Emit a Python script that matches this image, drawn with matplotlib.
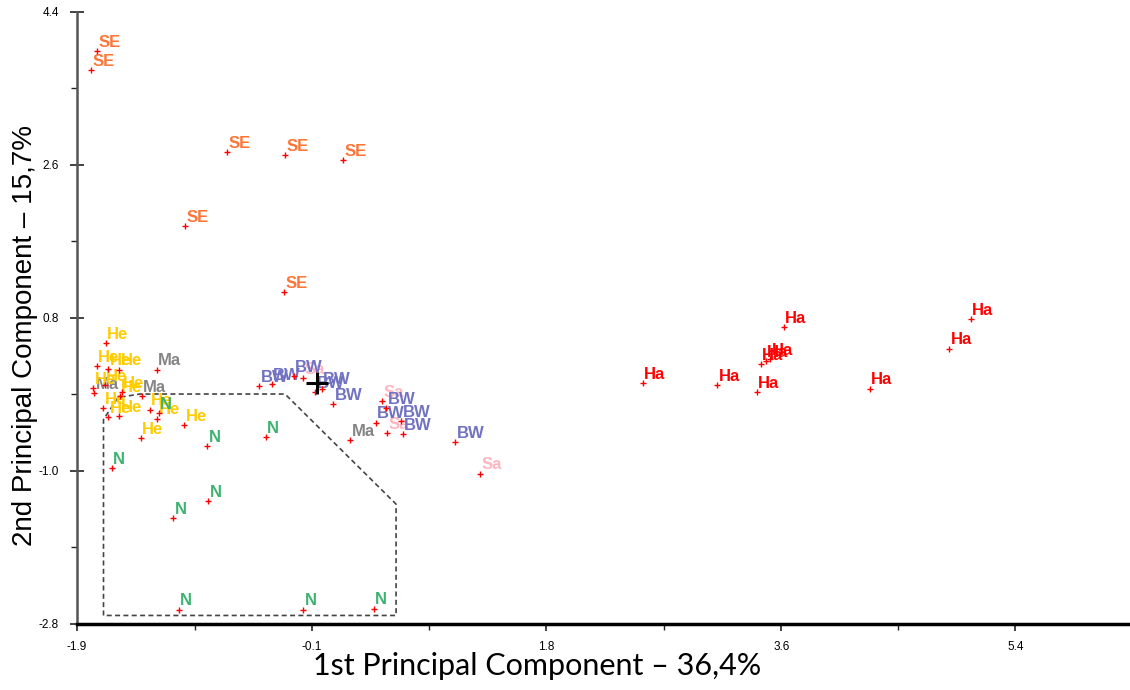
import numpy as np
import matplotlib.pyplot as plt
from matplotlib.ticker import FixedLocator
from matplotlib import font_manager

# ---- data (PC1, PC2 scores per sample) ----
se_x = [-1.74, -1.79, -0.73, -0.28, 0.175, -1.06, -0.285]
se_y = [3.94, 3.72, 2.755, 2.72, 2.66, 1.88, 1.10]

ha_x = [2.51, 3.09, 3.40, 3.43, 3.47, 3.506, 3.61, 4.28, 4.90, 5.07]
ha_y = [0.03, 0.01, -0.07, 0.26, 0.29, 0.317, 0.69, -0.03, 0.44, 0.79]

sa_x = [-0.14, 0.48, 0.52, 1.24]
sa_y = [0.09, -0.18, -0.55, -1.03]

ma_x = [-1.278, -1.767, -1.395, 0.23]
ma_y = [0.193, -0.081, -0.121, -0.64]

he_x = [-1.676, -1.746, -1.656, -1.572, -1.773, -1.682, -1.551, -1.565,
        -1.695, -1.656, -1.572, -1.331, -1.274, -1.065, -1.403]
he_y = [0.507, 0.232, 0.201, 0.193, -0.022, 0.013, -0.074, -0.121,
        -0.262, -0.367, -0.356, -0.277, -0.383, -0.465, -0.609]

n_x = [-0.886, -0.43, -1.63, -0.876, -1.149, -1.107, -0.135, 0.414, -1.263]
n_y = [-0.71, -0.60, -0.97, -1.35, -1.55, -2.63, -2.63, -2.62, -0.32]

bw_x = [-0.48, -0.38, -0.21, 0.01, -0.044, 0.10, 0.51, 0.43, 0.63, 0.64, 1.05]
bw_y = [0.00, 0.02, 0.12, -0.03, -0.074, -0.21, -0.26, -0.43, -0.41, -0.57, -0.66]

centroid = (-0.03, 0.04)

# dashed region around the N group
region_x = [-1.693, -1.693, -1.58, -1.409, -0.278, 0.588, 0.588, -1.693]
region_y = [-2.70, -0.394, -0.136, -0.095, -0.095, -1.39, -2.70, -2.70]

xtick_pos = [-1.9, -0.067, 1.758, 3.591, 5.417]
xtick_lab = ['-1.9', '-0.1', '1.8', '3.6', '5.4']
ytick_pos = [-2.8, -1.0, 0.8, 2.6, 4.4]
ytick_lab = ['-2.8', '-1.0', '0.8', '2.6', '4.4']

# draw order matters: later groups sit on top
groups = [
    ('Sa', sa_x, sa_y, '#FFB6C1'),
    ('Ma', ma_x, ma_y, '#858585'),
    ('He', he_x, he_y, '#FFCC00'),
    ('N', n_x, n_y, '#3CB371'),
    ('BW', bw_x, bw_y, '#7272C2'),
    ('SE', se_x, se_y, '#FF7538'),
    ('Ha', ha_x, ha_y, '#FF0000'),
]

installed = {f.name for f in font_manager.fontManager.ttflist}
narrow = 'Liberation Sans Narrow' if 'Liberation Sans Narrow' in installed else 'Liberation Sans'

fig = plt.figure(figsize=(11.3, 6.9), dpi=100)
ax = fig.add_axes([0.0681, 0.0957, 0.9319, 0.887])

ax.plot(region_x, region_y, color='#444444', lw=1.2, ls=(0, (3, 2)), zorder=1)

for name, xs, ys, col in groups:
    ax.plot(xs, ys, ls='none', marker='+', ms=4, mew=1.0, color='red', zorder=5)
    for x, y in zip(xs, ys):
        ax.annotate(name, (x, y), xytext=(1, 3), textcoords='offset points',
                    ha='left', va='baseline', fontsize=12, fontweight='bold',
                    family='Liberation Sans', color=col, zorder=3)

ax.plot(*centroid, marker='+', ms=16, mew=2.2, color='black', zorder=6)

ax.set_xlim(-1.9, 6.31)
ax.set_ylim(-2.8, 4.4)

ax.set_xticks(xtick_pos)
ax.set_xticklabels(xtick_lab)
ax.set_yticks(ytick_pos)
ax.set_yticklabels(ytick_lab)
xm = [(a + b) / 2 for a, b in zip(xtick_pos[:-1], xtick_pos[1:])]
ym = [(a + b) / 2 for a, b in zip(ytick_pos[:-1], ytick_pos[1:])]
ax.xaxis.set_minor_locator(FixedLocator(xm))
ax.yaxis.set_minor_locator(FixedLocator(ym))

ax.tick_params(axis='both', which='major', direction='out', length=5, width=1.2,
               color='#222222', labelsize=8.5)
ax.tick_params(axis='y', which='major', direction='inout', length=10, pad=8)
ax.tick_params(axis='x', which='major', pad=7)
ax.tick_params(axis='both', which='minor', direction='out', length=4, width=1.0,
               color='#222222')
for lab in ax.get_xticklabels() + ax.get_yticklabels():
    lab.set_family(narrow)

for s in ('top', 'right'):
    ax.spines[s].set_visible(False)
ax.spines['left'].set_color('#555555')
ax.spines['left'].set_linewidth(1.8)
ax.spines['bottom'].set_color('black')
ax.spines['bottom'].set_linewidth(2.5)

ax.set_xlabel('1st Principal Component \u2013 36,4%', fontsize=22, family='Lato',
              labelpad=1)
ax.xaxis.set_label_coords(0.437, -0.045, transform=ax.transAxes)
ax.xaxis.label.set_va('top')
ax.set_ylabel('2nd Principal Component \u2013 15,7%', fontsize=20,
              family='Liberation Sans', labelpad=6)
ax.yaxis.set_label_coords(-0.037, 0.472, transform=ax.transAxes)

fig.savefig('out.png', dpi=100)
